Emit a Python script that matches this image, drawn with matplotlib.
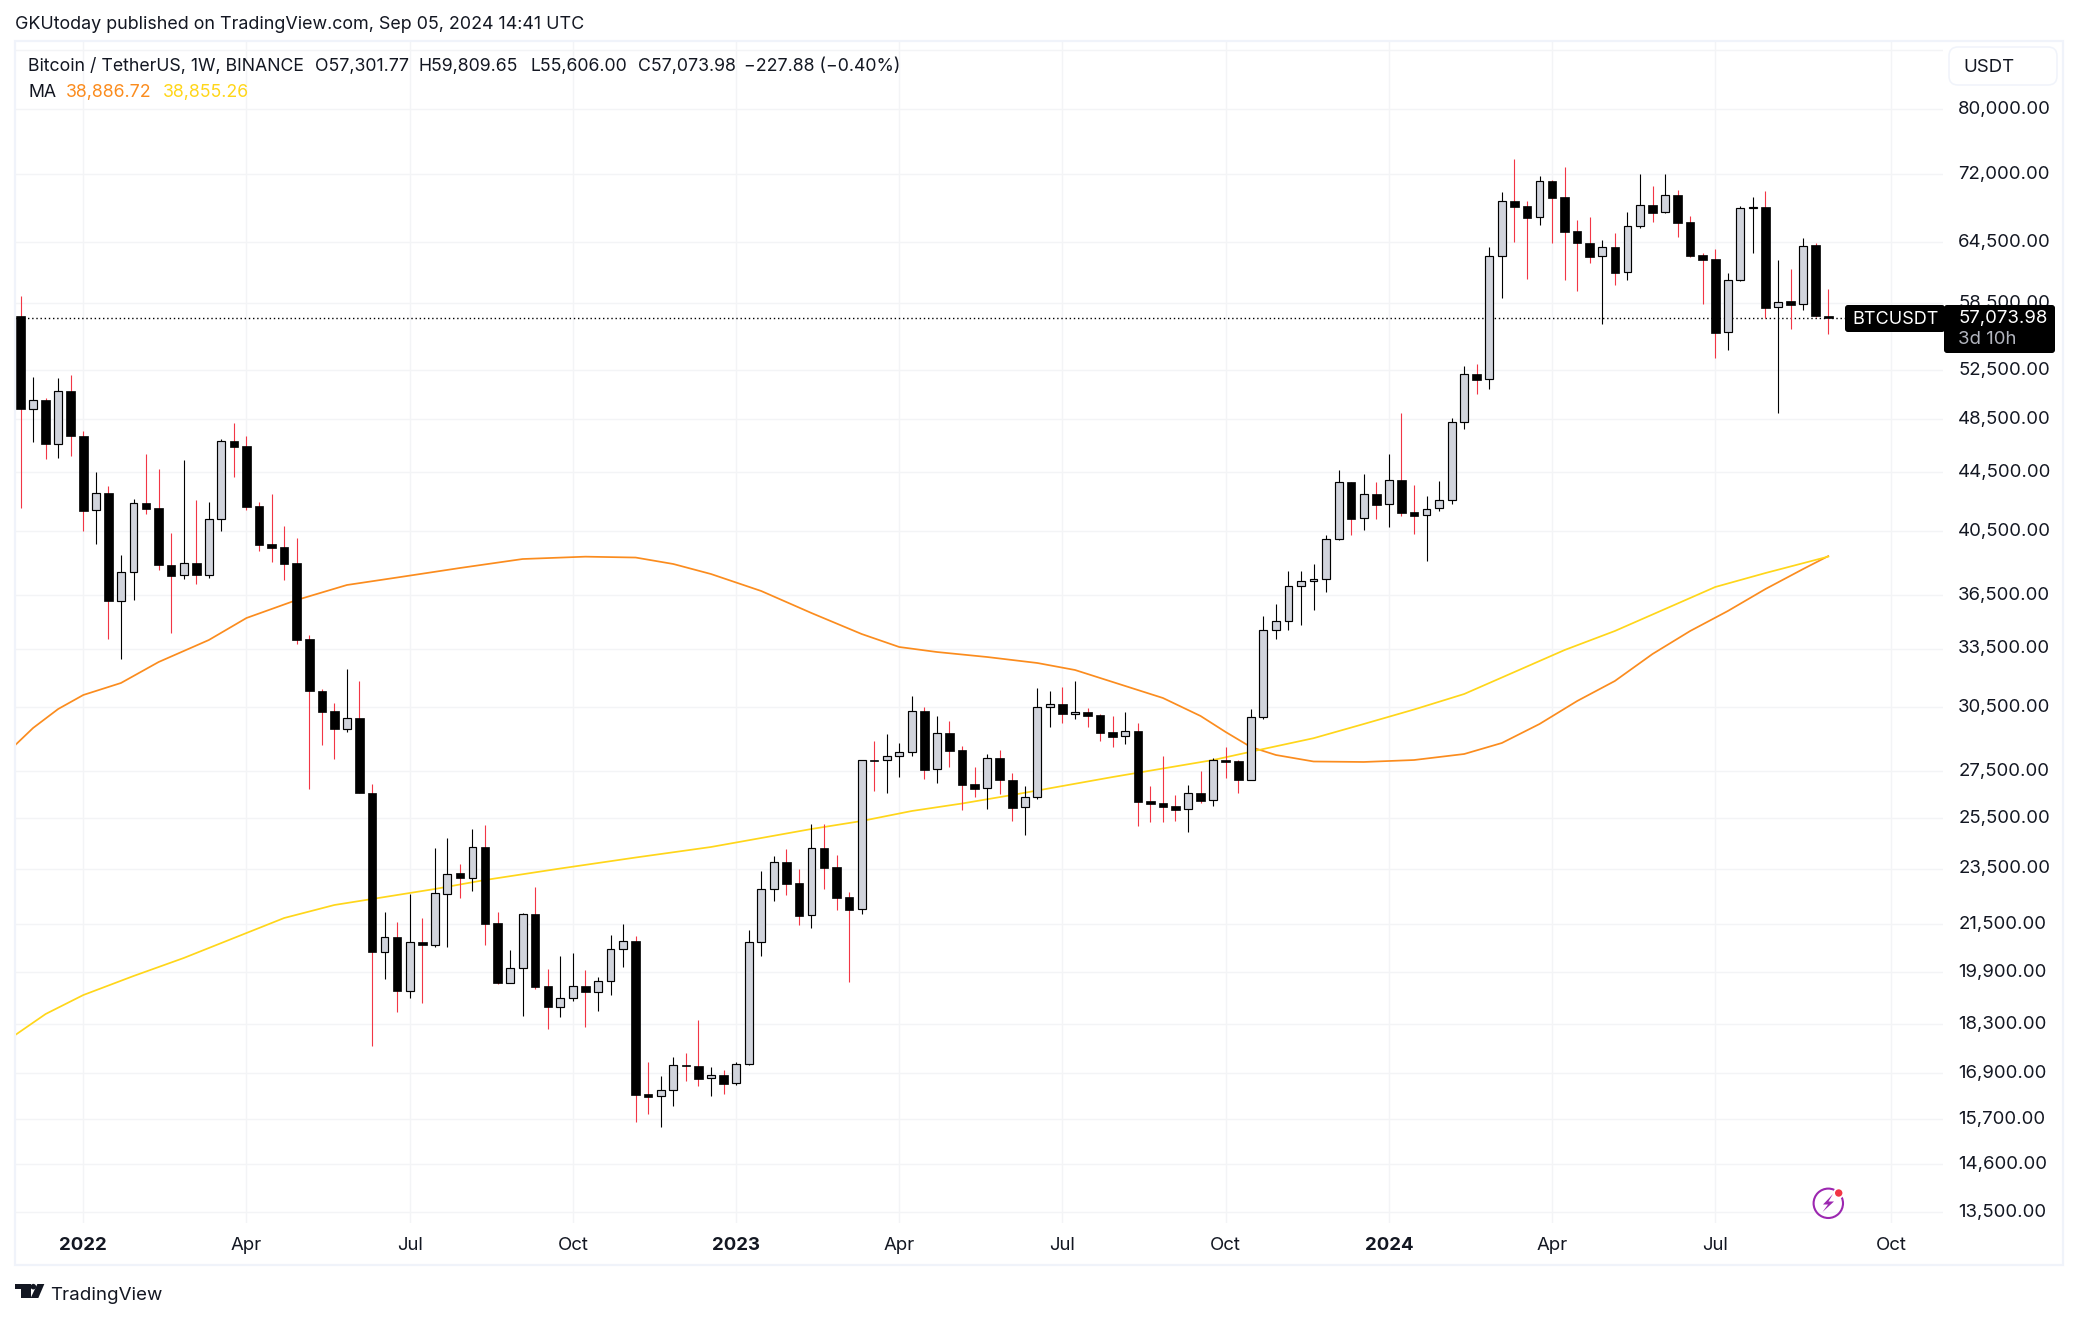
import matplotlib
matplotlib.use("Agg")
import matplotlib.pyplot as plt
from matplotlib.patches import Circle, FancyBboxPatch, Polygon, Rectangle
from matplotlib.transforms import ScaledTranslation

W, H = 2078, 1318

# weeks counted from the candle of 2022-01-03
first_week = -5
opens = [57270, 49320, 49990, 46610, 50716, 47215, 41861, 43028, 36189, 37884,
         42342, 42000, 38350, 37700, 38429, 37738, 41264, 46793, 46414, 42137,
         39632, 39443, 38440, 34006, 31302, 30300, 29442, 29960, 26560, 20551,
         21040, 19298, 20864, 20784, 22565, 23331, 23160, 24317, 21520, 19549,
         20008, 21838, 19437, 18807, 19063, 19437, 19267, 19593, 20630, 20898,
         16330, 16278, 16436, 17112, 17084, 16752, 16838, 16620, 17139, 20864,
         22726, 23736, 22947, 21794, 24278, 23544, 22434, 22003, 27980, 27980,
         28160, 28343, 30279, 27573, 29224, 28434, 26915, 26741, 28071, 27120,
         25940, 26360, 30475, 30623, 30162, 30241, 30090, 29280, 29075, 29333,
         26203, 26118, 25990, 25855, 26543, 26232, 27980, 27950, 27120, 29988,
         34503, 35007, 37039, 37339, 37459, 39954, 43800, 41338, 42961, 42275,
         43942, 41727, 41526, 42000, 42548, 48249, 52131, 51714, 63053, 68900,
         68344, 67135, 71158, 69344, 65650, 64400, 63053, 63975, 61448, 66178,
         68457, 67680, 69570, 66590, 63157, 62745, 55785, 60700, 68200, 68230,
         58080, 58640, 58360, 64180, 57301.77]
highs = [59143, 51900, 50175, 51821, 52072, 47576, 44533, 43540, 38954, 42640,
         45843, 44749, 40350, 45420, 42568, 42430, 46966, 48194, 47194, 42430,
         42980, 40820, 40038, 34242, 31400, 30672, 32400, 31795, 26931, 21898,
         21559, 22565, 21698, 24290, 24685, 23672, 25046, 25207, 21909, 20607,
         21874, 22810, 19985, 20409, 20508, 19953, 19729, 21111, 21489, 21077,
         17203, 16819, 17342, 17454, 18408, 17065, 16983, 17203, 21282, 23406,
         23979, 24251, 23482, 25248, 25248, 24017, 22627, 28003, 28864, 29191,
         28771, 31035, 30490, 30051, 29810, 28618, 27679, 28251, 28448, 27412,
         26844, 31438, 31287, 31489, 31795, 30446, 30130, 30051, 30241, 29714,
         26844, 28171, 26458, 26887, 27501, 28071, 28586, 27994, 30392, 35307,
         35997, 37964, 37964, 38395, 40232, 44677, 43822, 44390, 43822, 45843,
         48978, 43610, 42843, 43892, 48561, 52832, 53003, 64006, 69940, 73762,
         68933, 71768, 71305, 72817, 66854, 67177, 64732, 65467, 67721, 72000,
         70620, 72000, 70166, 67285, 63390, 63800, 61379, 68380, 69380, 70053,
         62679, 61776, 64941, 64419, 59809.65]
lows = [42040, 46758, 45494, 45568, 45717, 40512, 39670, 34033, 32955, 36250,
        41640, 38043, 34369, 37495, 37195, 37556, 40512, 44197, 41907, 39227,
        38540, 37435, 33765, 26727, 28692, 28052, 29300, 26540, 17661, 19675,
        18656, 19082, 18928, 20720, 20717, 22420, 22674, 20784, 19520, 19530,
        18536, 19349, 18152, 18506, 18990, 18210, 18687, 19174, 20060, 15625,
        15828, 15499, 16033, 16692, 16558, 16294, 16346, 16583, 17120, 20418,
        22312, 22528, 21465, 21361, 22748, 21990, 19580, 21826, 26629, 26556,
        27249, 28187, 27162, 26987, 27692, 25838, 26384, 25879, 26512, 25384,
        24817, 26300, 29537, 29728, 29920, 29523, 28873, 28600, 28737, 25179,
        25343, 25343, 25384, 24937, 26132, 26005, 27206, 26556, 27100, 29920,
        34033, 34537, 34816, 35665, 36718, 39900, 40252, 40578, 41304, 40774,
        41504, 40317, 38600, 41834, 42315, 47754, 50526, 50925, 58980, 64555,
        60817, 66349, 64451, 60719, 59652, 62406, 56561, 60232, 60719, 66030,
        66670, 67600, 65077, 63000, 58415, 53544, 54230, 60580, 63420, 57111,
        49001, 56107, 57780, 57200, 55606]
closes = [49320, 49990, 46610, 50716, 47215, 41834, 43028, 36189, 37884, 42342,
          41971, 38350, 37677, 38429, 37738, 41264, 46793, 46387, 42108, 39606,
          39417, 38413, 33984, 31302, 30260, 29442, 29940, 26556, 20551, 21033,
          19298, 20864, 20784, 22580, 23282, 23143, 24317, 21500, 19549, 20008,
          21838, 19423, 18807, 19063, 19437, 19267, 19593, 20630, 20898, 16320,
          16267, 16436, 17112, 17100, 16746, 16838, 16612, 17139, 20864, 22726,
          23736, 22932, 21779, 24278, 23531, 22420, 21990, 27980, 27960, 28160,
          28343, 30279, 27559, 29224, 28416, 26900, 26727, 28071, 27118, 25921,
          26360, 30475, 30623, 30162, 30241, 30060, 29252, 29064, 29319, 26173,
          26078, 25962, 25838, 26530, 26215, 27980, 27920, 27118, 29988, 34503,
          35007, 37039, 37339, 37459, 39954, 43800, 41304, 42961, 42248, 43942,
          41705, 41504, 41971, 42548, 48249, 52131, 51679, 63053, 68900, 68300,
          67102, 71158, 69300, 65604, 64368, 63010, 63975, 61408, 66178, 68457,
          67645, 69570, 66563, 63114, 62709, 55746, 60700, 68126, 68230, 58039,
          58610, 58320, 64140, 57300, 57073.98]

ma_fast_weeks = [-6, -4, -2, 0, 3, 6, 10, 13, 17, 21, 25, 30, 35, 40, 44, 47, 50, 54,
                 58, 62, 65, 68, 72, 76, 79, 82, 86, 89, 91, 93, 95, 98, 102, 106,
                 110, 113, 116, 119, 122, 125, 128, 131, 134, 137, 139]
ma_fast = [28356, 29475, 30392, 31086, 31693, 32783, 33967, 35194, 36230, 37117,
           37568, 38148, 38705, 38852, 38797, 38395, 37780, 36760, 35479, 34298,
           33586, 33316, 33049, 32731, 32364, 31744, 30936, 30051, 29285, 28586,
           28220, 27926, 27904, 27992, 28265, 28771, 29666, 30786, 31795, 33209,
           34464, 35593, 36878, 38086, 38886.72]
ma_slow_weeks = [-6, -3, 0, 4, 8, 12, 16, 20, 24, 28, 32, 38, 44, 50, 54, 58, 62, 66,
                 70, 74, 78, 82, 86, 90, 94, 98, 102, 106, 110, 114, 118, 122, 126,
                 130, 134, 139]
ma_slow = [17824, 18587, 19164, 19761, 20343, 21010, 21698, 22158, 22445, 22737,
           23069, 23501, 23921, 24330, 24685, 25046, 25371, 25784, 26097, 26458,
           26844, 27236, 27612, 27992, 28494, 28994, 29666, 30366, 31136, 32259,
           33424, 34464, 35708, 36998, 37841, 38855.26]

price_ticks = [88000, 80000, 72000, 64500, 58500, 52500, 48500, 44500, 40500, 36500,
               33500, 30500, 27500, 25500, 23500, 21500, 19900, 18300, 16900, 15700,
               14600, 13500]
price_labels = ["", "80,000.00", "72,000.00", "64,500.00", "58,500.00", "52,500.00",
                "48,500.00", "44,500.00", "40,500.00", "36,500.00", "33,500.00",
                "30,500.00", "27,500.00", "25,500.00", "23,500.00", "21,500.00",
                "19,900.00", "18,300.00", "16,900.00", "15,700.00", "14,600.00",
                "13,500.00"]
time_ticks = [0, 13, 26, 39, 52, 65, 78, 91, 104, 117, 130, 144]
time_labels = ["2022", "Apr", "Jul", "Oct", "2023", "Apr", "Jul", "Oct", "2024", "Apr", "Jul", "Oct"]

BLACK = "#000000"
GRAY = "#D1D4DC"
RED = "#F23645"
ORANGE = "#FB8C1E"
YELLOW = "#FFD61A"
GRID = "#F3F4F6"
BORDER = "#F0F3FA"
TEXT = "#131722"

plt.rcParams["font.family"] = ["Inter", "DejaVu Sans"]
fig = plt.figure(figsize=(W / 100, H / 100), dpi=100, facecolor="white")

# plot area in pixels: x 15..1943, y 40..1222.7
ax = fig.add_axes([15 / W, 1 - 1222.7 / H, 1928 / W, 1182.7 / H])
ax.set_yscale("log")
ax.set_xlim(-5.44, 148.14)
ax.set_ylim(13277, 89360)
for s in ax.spines.values():
    s.set_visible(False)

ax.set_yticks(price_ticks, price_labels)
ax.minorticks_off()
ax.yaxis.tick_right()
ax.set_xticks(time_ticks, time_labels)
ax.tick_params(axis="y", length=0, pad=11, labelsize=13.4, labelcolor=TEXT)
ax.tick_params(axis="x", length=0, pad=10.6, labelsize=13.4, labelcolor=TEXT)
nudge = ScaledTranslation(0, 1.6 / 100, fig.dpi_scale_trans)
for lab in ax.get_yticklabels():
    lab.set_transform(lab.get_transform() + nudge)
for lab, txt in zip(ax.get_xticklabels(), time_labels):
    if txt.startswith("20"):
        lab.set_fontweight("bold")
ax.grid(True, color=GRID, lw=1)
ax.set_axisbelow(True)

ax.axhline(closes[-1], color=BLACK, lw=1, ls=(0, (1, 2)), zorder=1.5)

ax.plot(ma_fast_weeks, ma_fast, color=ORANGE, lw=1.25, zorder=2)
ax.plot(ma_slow_weeks, ma_slow, color=YELLOW, lw=1.25, zorder=2)

for i, (o, h, l, c) in enumerate(zip(opens, highs, lows, closes)):
    wk = first_week + i
    up = c >= o
    ax.vlines(wk, l, h, color=BLACK if up else RED, lw=0.8, zorder=3)
    if up:
        ax.bar(wk, c - o, bottom=o, width=0.62, color=GRAY, edgecolor=BLACK, lw=0.85, zorder=4)
    else:
        ax.bar(wk, o - c, bottom=c, width=0.68, color=BLACK, edgecolor=BLACK, lw=0.5, zorder=4)

# everything around the chart, in pixel coordinates
top = fig.add_axes([0, 0, 1, 1], zorder=5)
top.set_xlim(0, W)
top.set_ylim(H, 0)
top.axis("off")
top.patch.set_alpha(0)

top.add_patch(Rectangle((15, 40.5), 2048, 1224.5, fill=False, ec=BORDER, lw=1.6))
top.add_patch(FancyBboxPatch((1952, 50), 102, 32, boxstyle="round,pad=3,rounding_size=9",
                             fc="white", ec=BORDER, lw=1.1))
top.text(1963, 67, "USDT", fontsize=13.4, color=TEXT, va="center")

top.text(15, 24.5, "GKUtoday published on TradingView.com, Sep 05, 2024 14:41 UTC",
         fontsize=12.9, color=TEXT, va="center")

legend_parts = [(28, "Bitcoin / TetherUS, 1W, BINANCE"), (315, "O57,301.77"), (419, "H59,809.65"),
                (530, "L55,606.00"), (638, "C57,073.98"), (744, "\u2212227.88 (\u22120.40%)")]
for x, s in legend_parts:
    top.text(x, 66.3, s, fontsize=12.75, color=TEXT, va="center")
top.text(28, 92.3, "MA", fontsize=12.75, color=TEXT, va="center")
top.text(66, 92.3, "38,886.72", fontsize=12.75, color=ORANGE, va="center")
top.text(163, 92.3, "38,855.26", fontsize=12.75, color=YELLOW, va="center")

# last price tags
top.add_patch(FancyBboxPatch((1847, 307), 96, 23, boxstyle="round,pad=2,rounding_size=3",
                             fc=BLACK, ec="none"))
top.text(1852, 320, "BTCUSDT", fontsize=13, color="white", va="center")
top.add_patch(FancyBboxPatch((1946, 307), 107, 44, boxstyle="round,pad=2,rounding_size=3",
                             fc=BLACK, ec="none"))
top.text(1958, 318.5, "57,073.98", fontsize=13.4, color="white", va="center")
top.text(1958, 339.5, "3d 10h", fontsize=13.4, color="#B2B5BE", va="center")

# tradingview logo
def logo_pts(pts):
    return [(x / 3, 1200 + y / 3) for x, y in pts]


top.add_patch(Polygon(logo_pts([(45, 252), (92, 252), (92, 294), (62, 294), (62, 268), (45, 268)]),
                      fc=TEXT, ec="none"))
top.add_patch(Circle((100 / 3, 1200 + 260 / 3), 2.8, fc=TEXT, ec="none"))
top.add_patch(Polygon(logo_pts([(112, 252), (133, 252), (115, 294), (92, 294)]), fc=TEXT, ec="none"))
top.text(50.5, 1295, "TradingView", fontsize=13.5, color=TEXT, va="center")

# lightning badge
PURPLE = "#9C27B0"
top.add_patch(Circle((1828.3, 1203.3), 14.7, fill=False, ec=PURPLE, lw=1.5))
top.add_patch(Polygon([(1833, 1194), (1823, 1204.5), (1828, 1204.5), (1822.5, 1212), (1834, 1201.5),
                       (1828.5, 1201.5)], fc=PURPLE, ec="none"))
top.add_patch(Circle((1838.7, 1193), 5.5, fc="white", ec="none"))
top.add_patch(Circle((1838.7, 1193), 3.7, fc=RED, ec="none"))

fig.savefig("out.png", dpi=100)
